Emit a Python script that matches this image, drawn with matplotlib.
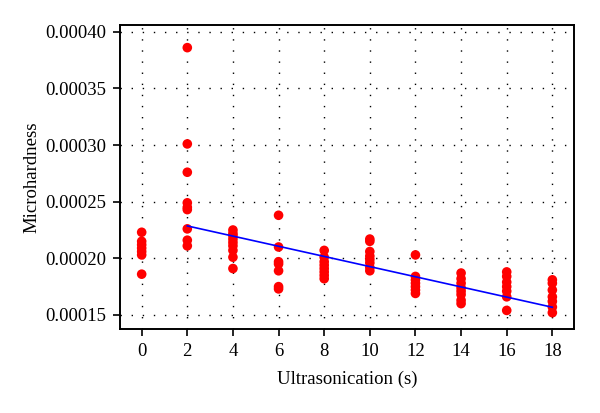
import numpy as np
import matplotlib
matplotlib.use("Agg")
import matplotlib.pyplot as plt

# Data
x_levels = [0, 2, 4, 6, 8, 10, 12, 14, 16, 18]
hardness = {
    0: [0.000223, 0.000215, 0.000212, 0.000209, 0.000206, 0.000203, 0.000186],
    2: [0.000386, 0.000301, 0.000276, 0.000249, 0.000245, 0.000243, 0.000226, 0.000216, 0.000211],
    4: [0.000225, 0.000222, 0.000220, 0.000217, 0.000214, 0.000211, 0.000207, 0.000201, 0.000191],
    6: [0.000238, 0.000210, 0.000197, 0.000195, 0.000189, 0.000175, 0.000173],
    8: [0.000207, 0.000201, 0.000197, 0.000194, 0.000191, 0.000188, 0.000185, 0.000182],
    10: [0.000217, 0.000215, 0.000206, 0.000202, 0.000199, 0.000196, 0.000192, 0.000189],
    12: [0.000203, 0.000184, 0.000181, 0.000178, 0.000175, 0.000172, 0.000169],
    14: [0.000187, 0.000182, 0.000178, 0.000174, 0.000171, 0.000168, 0.000163, 0.000160],
    16: [0.000188, 0.000184, 0.000179, 0.000175, 0.000171, 0.000166, 0.000154],
    18: [0.000181, 0.000178, 0.000172, 0.000166, 0.000162, 0.000157, 0.000152],
}
fit_x = [2, 18]
fit_y = [0.0002286, 0.0001568]
x_ticks = [0, 2, 4, 6, 8, 10, 12, 14, 16, 18]
y_ticks = [0.00015, 0.00020, 0.00025, 0.00030, 0.00035, 0.00040]

plt.rcParams['font.family'] = ['Liberation Serif', 'DejaVu Serif']

fig = plt.figure(figsize=(6.0, 4.13), dpi=100)
ax = fig.add_axes([0.2, 0.2034, 0.7567, 0.7361])

for xv in x_levels:
    ys = hardness[xv]
    ax.scatter([xv] * len(ys), ys, s=48, color='#ff0000', edgecolors='none', zorder=3)

ax.plot(fit_x, fit_y, color='#0000ff', linewidth=1.2, zorder=4)

ax.set_xlim(-0.95, 18.95)
ax.set_ylim(0.0001376, 0.000406)
ax.set_xticks(x_ticks)
ax.set_yticks(y_ticks)
ax.set_yticklabels([f"{v:.5f}" for v in y_ticks])
ax.tick_params(axis='both', direction='out', length=5, width=1.2, labelsize=13.5, pad=5)

ax.grid(True, color='black', linestyle=(0, (1, 7)), linewidth=1.0)
ax.set_axisbelow(True)
for sp in ax.spines.values():
    sp.set_linewidth(1.4)

ax.set_xlabel('Ultrasonication (s)', fontsize=13.5, labelpad=8)
ax.set_ylabel('Microhardness', fontsize=13.5, labelpad=3)

fig.savefig('out.png', dpi=100)
